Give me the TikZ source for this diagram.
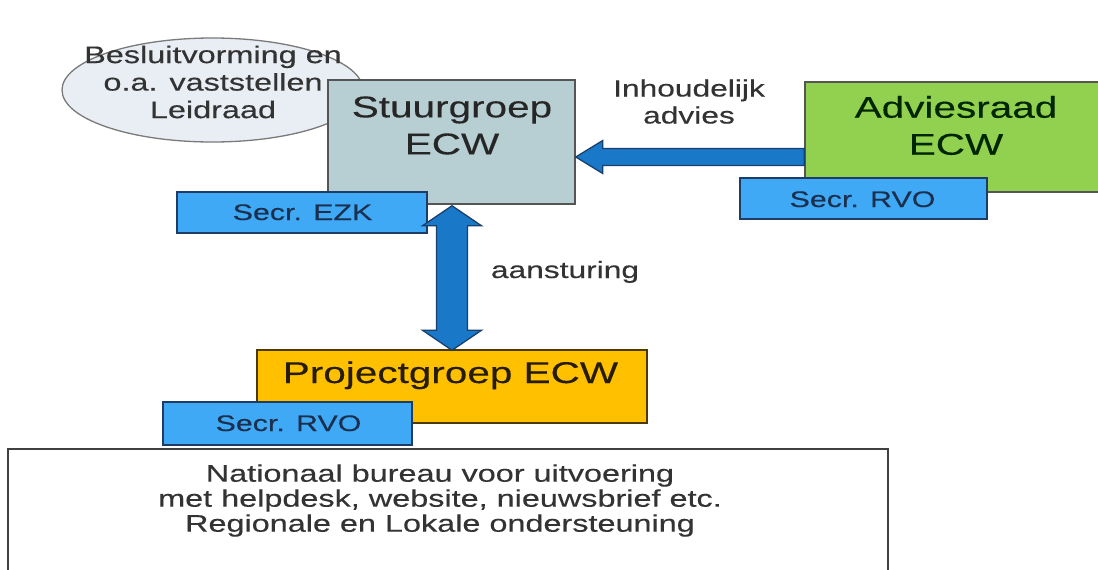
\documentclass[tikz,border=0pt]{standalone}
\usepackage{fontspec}
\setmainfont{Liberation Sans}[FakeStretch=1.35,FakeBold=0.3]
\usetikzlibrary{calc,shapes.geometric}
\definecolor{ellfill}{HTML}{E8EEF4}
\definecolor{ellline}{HTML}{7A7A7A}
\definecolor{stufill}{HTML}{B7CFD3}
\definecolor{advfill}{HTML}{92D050}
\definecolor{profill}{HTML}{FFC000}
\definecolor{secfill}{HTML}{3FA9F5}
\definecolor{secline}{HTML}{1E3C66}
\definecolor{arrfill}{HTML}{1A78C8}
\definecolor{arrline}{HTML}{17406E}
\definecolor{boxline}{HTML}{555555}
\definecolor{txtgray}{HTML}{333333}
\definecolor{sectxt}{HTML}{1B2F4F}
\tikzset{
  bigbox/.style={draw=boxline, line width=1.5pt, inner sep=0pt},
  secbox/.style={draw=secline, fill=secfill, line width=1.5pt, inner sep=0pt, minimum width=250pt, minimum height=41pt},
  sectext/.style={anchor=base, text=sectxt, font=\fontsize{22.5}{26}\selectfont, inner sep=0pt},
  bigtext/.style={align=center, font=\fontsize{30}{37}\selectfont, inner sep=0pt},
  midtext/.style={align=center, text=txtgray, font=\fontsize{23.5}{27}\selectfont, inner sep=0pt},
  bigarrow/.style={draw=arrline, fill=arrfill, line width=1.3pt, line join=miter}
}
\begin{document}
\begin{tikzpicture}[x=1pt,y=-1pt]
\useasboundingbox (0,0) rectangle (1098,570);
\fill[white] (0,0) rectangle (1098,570);
\begin{scope}
\clip (0,0) rectangle (1098,570);
% ellipse
\node[ellipse, draw=ellline, fill=ellfill, line width=1.3pt, minimum width=301pt, minimum height=104pt, inner sep=0pt] (ell) at (212.5,90) {};
\node[midtext, font=\fontsize{24}{27.5}\selectfont] (elltxt) at (213,82) {Besluitvorming en\\o.a. vaststellen\\Leidraad};
% Stuurgroep
\node[bigbox, fill=stufill, minimum width=247pt, minimum height=124pt] (stu) at (451.5,142) {};
\node[bigtext, text=black!85] (stutxt) at (452,125.5) {Stuurgroep\\ECW};
% Secr EZK
\node[secbox] (ezk) at (302,212.5) {};
\node[sectext] (ezktxt) at (302.5,220) {Secr. EZK};
% Adviesraad
\node[bigbox, fill=advfill, minimum width=295pt, minimum height=110pt] (adv) at (952.5,137) {};
\node[bigtext, text=black!85!green] (advtxt) at (956,125.5) {Adviesraad\\ECW};
% Secr RVO right
\node[secbox, minimum width=247pt] (rvo1) at (863.5,198.5) {};
\node[sectext] (rvo1txt) at (862.5,207) {Secr. RVO};
% horizontal arrow
\draw[bigarrow] ($(stu.east)+(0,15)$) -- ++(27,-16.5) -- ++(0,8) -- ($(adv.west)+(0,11.5)$) -- ++(0,17) -- ($(stu.east)+(27,23.5)$) -- ++(0,8) -- cycle;
\node[midtext] (inh) at (689,101.6) {Inhoudelijk\\advies};
% Projectgroep
\node[bigbox, fill=profill, draw=black!70!profill, minimum width=390pt, minimum height=73pt] (proj) at (452,386.5) {};
\node[bigtext, anchor=base, text=black!85!profill] (projtxt) at (450.5,383) {Projectgroep ECW};
% vertical double arrow
\draw[bigarrow] ($(stu.south)+(0.5,1)$) -- ++(29.5,20) -- ++(-14,0) -- ($(proj.north)+(15.5,-19)$) -- ++(14,0) -- ($(proj.north)+(0,1)$) -- ++(-29.5,-20) -- ++(14,0) -- ($(stu.south)+(-15,21)$) -- ++(-14,0) -- cycle;
\node[midtext, anchor=base] (aan) at (565,278) {aansturing};
% Secr RVO bottom
\node[secbox, minimum width=249pt, minimum height=43pt] (rvo2) at (287.5,423.5) {};
\node[sectext] (rvo2txt) at (288.5,431) {Secr. RVO};
% bottom box
\node[bigbox, draw=black!75, line width=2pt, fill=white, minimum width=880pt, minimum height=140pt] (bur) at (448,519) {};
\node[midtext, font=\fontsize{24}{25}\selectfont] (burtxt) at (440,500.5) {Nationaal bureau voor uitvoering\\met helpdesk, website, nieuwsbrief etc.\\Regionale en Lokale ondersteuning};
\end{scope}
\end{tikzpicture}
\end{document}
